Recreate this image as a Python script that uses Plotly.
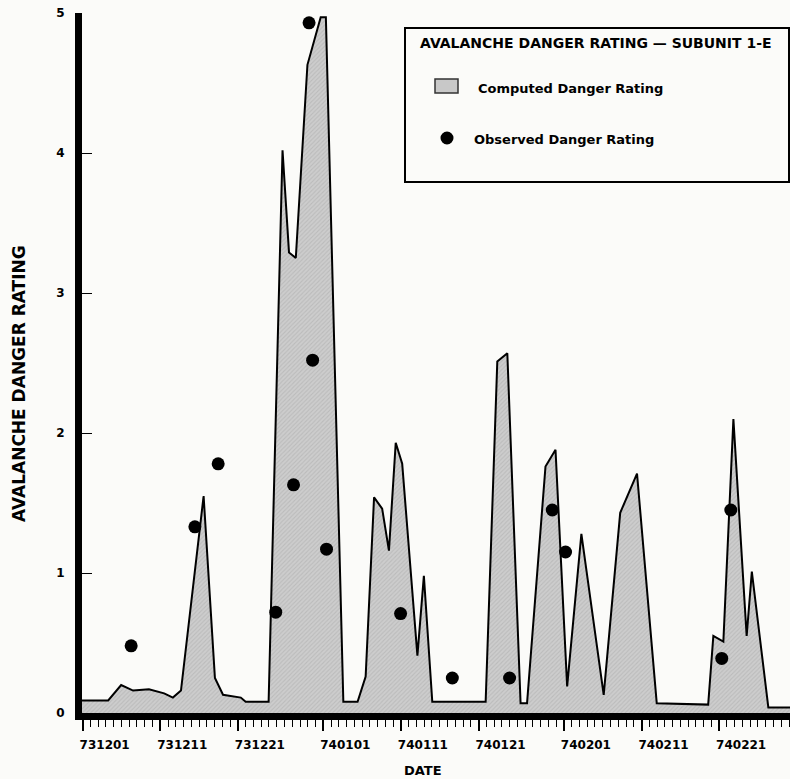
import plotly.graph_objects as go

# ---- data ----
computed_dates = [
    "1973-11-30 22:00", "1973-12-04 07:00", "1973-12-05 23:00", "1973-12-07 12:00",
    "1973-12-09 13:00", "1973-12-11 12:00", "1973-12-12 15:00", "1973-12-13 16:00",
    "1973-12-16 14:00", "1973-12-18 01:00", "1973-12-19 02:00", "1973-12-20 02:00",
    "1973-12-21 09:00", "1973-12-22 00:00", "1973-12-24 23:00", "1973-12-26 18:00",
    "1973-12-27 14:00", "1973-12-28 11:00", "1973-12-29 23:00", "1973-12-31 16:00",
    "1974-01-01 08:00", "1974-01-03 14:00", "1974-01-05 10:00", "1974-01-06 11:00",
    "1974-01-07 13:00", "1974-01-08 14:00", "1974-01-09 11:00", "1974-01-10 08:00",
    "1974-01-11 04:00", "1974-01-13 03:00", "1974-01-13 23:00", "1974-01-15 01:00",
    "1974-01-21 22:00", "1974-01-23 10:00", "1974-01-24 17:00", "1974-01-26 10:00",
    "1974-01-27 06:00", "1974-01-29 15:00", "1974-01-30 22:00", "1974-02-01 10:00",
    "1974-02-03 06:00", "1974-02-06 03:00", "1974-02-08 06:00", "1974-02-10 10:00",
    "1974-02-12 23:00", "1974-02-19 14:00", "1974-02-20 06:00", "1974-02-21 13:00",
    "1974-02-22 20:00", "1974-02-24 13:00", "1974-02-25 05:00", "1974-02-27 08:00",
    "1974-03-02 03:00",
]
computed_values = [
    0.09, 0.09, 0.20, 0.16,
    0.17, 0.14, 0.11, 0.16,
    1.55, 0.25, 0.13, 0.12,
    0.11, 0.08, 0.08, 4.02,
    3.29, 3.25, 4.63, 4.97,
    4.97, 0.08, 0.08, 0.26,
    1.54, 1.46, 1.16, 1.93,
    1.78, 0.41, 0.98, 0.08,
    0.08, 2.51, 2.57, 0.07,
    0.07, 1.76, 1.88, 0.19,
    1.28, 0.13, 1.43, 1.71,
    0.07, 0.06, 0.55, 0.51,
    2.10, 0.55, 1.01, 0.04,
    0.04,
]

observed_dates = [
    "1973-12-07 06:00", "1973-12-15 11:00", "1973-12-18 11:00", "1973-12-25 21:00",
    "1973-12-28 04:00", "1973-12-30 15:00", "1973-12-30 04:00", "1974-01-01 10:00",
    "1974-01-10 23:00", "1974-01-17 15:00", "1974-01-25 00:00", "1974-01-30 12:00",
    "1974-02-01 05:00", "1974-02-21 08:00", "1974-02-22 12:00",
]
observed_values = [
    0.48, 1.33, 1.78, 0.72,
    1.63, 2.52, 4.93, 1.17,
    0.71, 0.25, 0.25, 1.45,
    1.15, 0.39, 1.45,
]

tick_dates = ["1973-12-01", "1973-12-11", "1973-12-21", "1974-01-01", "1974-01-11",
              "1974-01-21", "1974-02-01", "1974-02-11", "1974-02-21"]
tick_labels = ["731201", "731211", "731221", "740101", "740111",
               "740121", "740201", "740211", "740221"]
y_ticks = [0, 1, 2, 3, 4, 5]

x_range = ["1973-11-30 22:00", "1974-03-02 03:00"]
y_range = [0, 5]

FONT = "DejaVu Sans"
BG = "#fbfbf9"
FILL = "#c8c8c8"

fig = go.Figure()
fig.add_trace(go.Scatter(
    x=computed_dates, y=computed_values, mode="lines", fill="tozeroy",
    fillcolor=FILL,
    fillpattern=dict(shape="/", bgcolor="#cdcdcd", fgcolor="#a9a9a9", size=3, solidity=0.35),
    line=dict(color="black", width=2),
    name="Computed Danger Rating", showlegend=False,
))
fig.add_trace(go.Scatter(
    x=observed_dates, y=observed_values, mode="markers",
    marker=dict(color="black", size=13),
    name="Observed Danger Rating", showlegend=False,
))

# plot area in pixels: x 82..790, y 13..713
def px(xp):
    return (xp - 82) / 708.0

def py(yp):
    return (713 - yp) / 700.0

shapes = [
    dict(type="rect", xref="paper", yref="paper",
         x0=px(405), x1=px(789), y0=py(182), y1=py(28),
         line=dict(color="black", width=2), fillcolor=BG, layer="above"),
    dict(type="rect", xref="paper", yref="paper",
         x0=px(435), x1=px(458), y0=py(93), y1=py(79),
         line=dict(color="#333333", width=1.5), fillcolor=FILL, layer="above"),
    dict(type="circle", xref="paper", yref="paper",
         x0=px(440.5), x1=px(453.5), y0=py(144.5), y1=py(131.5),
         line=dict(color="black", width=0), fillcolor="black", layer="above"),
]

annotations = [
    dict(text="<b>AVALANCHE DANGER RATING — SUBUNIT 1-E</b>", xref="paper", yref="paper",
         x=px(596), y=py(43), xanchor="center", yanchor="middle", showarrow=False,
         font=dict(family=FONT, size=14, color="black")),
    dict(text="<b>Computed Danger Rating</b>", xref="paper", yref="paper",
         x=px(476), y=py(89), xanchor="left", yanchor="middle", showarrow=False,
         font=dict(family=FONT, size=13, color="black")),
    dict(text="<b>Observed Danger Rating</b>", xref="paper", yref="paper",
         x=px(472), y=py(139), xanchor="left", yanchor="middle", showarrow=False,
         font=dict(family=FONT, size=13, color="black")),
    dict(text="<b>DATE</b>", xref="paper", yref="paper",
         x=px(423), y=py(770), xanchor="center", yanchor="middle", showarrow=False,
         font=dict(family=FONT, size=13, color="black")),
    dict(text="<b>AVALANCHE DANGER RATING</b>", xref="paper", yref="paper",
         x=px(19), y=py(384), xanchor="center", yanchor="middle", showarrow=False,
         textangle=-90, font=dict(family=FONT, size=17, color="black")),
]

fig.update_layout(
    width=790, height=779,
    margin=dict(l=82, r=0, t=13, b=66, autoexpand=False),
    paper_bgcolor=BG, plot_bgcolor=BG,
    showlegend=False,
    shapes=shapes, annotations=annotations,
    font=dict(family=FONT, color="black"),
)

fig.update_xaxes(
    type="date", range=x_range, automargin=False,
    tickvals=tick_dates, ticktext=tick_labels,
    ticks="outside", ticklen=11, tickwidth=1.5, tickcolor="black",
    showline=True, linewidth=7, linecolor="black",
    showgrid=False, zeroline=False,
    tickfont=dict(family=FONT, size=12, color="black", weight="bold"),
    ticklabelshift=22, ticklabelstandoff=4,
    minor=dict(dtick=86400000, ticks="outside", ticklen=7, tickwidth=1.2,
               tickcolor="black", showgrid=False),
)
fig.update_yaxes(
    range=y_range, automargin=False, tickvals=y_ticks, ticktext=[str(v) for v in y_ticks],
    ticks="inside", ticklen=10, tickwidth=1.2, tickcolor="black",
    showline=True, linewidth=7, linecolor="black",
    showgrid=False, zeroline=False,
    tickfont=dict(family=FONT, size=12, color="black", weight="bold"),
    ticklabelstandoff=8,
)

fig.write_html(
    "out.html",
    config={"displayModeBar": False},
    post_script="document.body.style.margin='0';document.body.style.overflow='hidden';",
)
